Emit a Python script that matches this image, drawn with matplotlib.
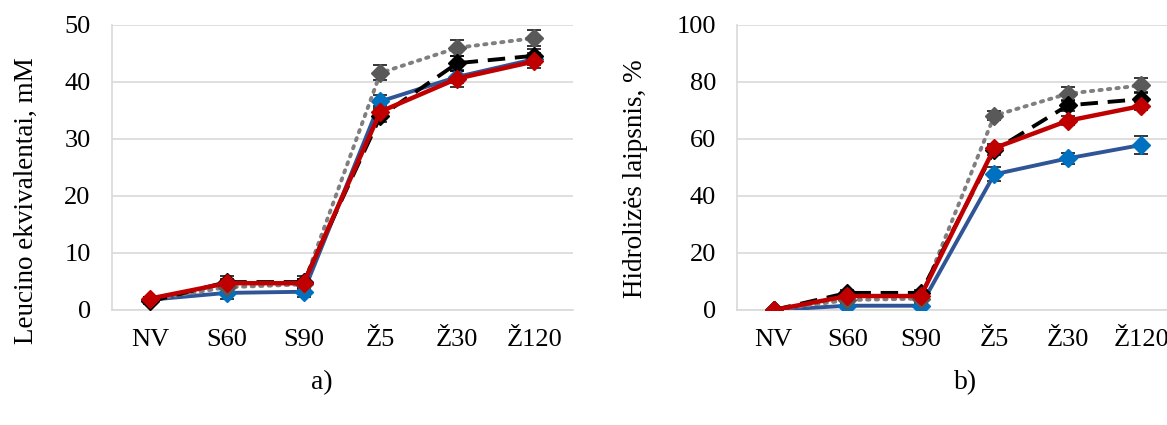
import matplotlib.pyplot as plt
import numpy as np

plt.rcParams['font.family'] = ['Liberation Serif', 'DejaVu Serif']

# === DUOMENYS ===
kategorijos = ["NV", "S60", "S90", "Ž5", "Ž30", "Ž120"]

# a) Leucino ekvivalentai, mM
leu_melyna = [1.8, 3.0, 3.2, 36.6, 40.9, 44.0]
leu_melyna_err = [0.4, 1.1, 1.0, 1.2, 1.0, 1.0]
leu_pilka = [1.8, 4.0, 4.5, 41.6, 46.0, 47.7]
leu_pilka_err = [0.4, 1.0, 1.0, 1.3, 1.4, 1.4]
leu_juoda = [1.5, 4.9, 4.9, 34.0, 43.3, 44.6]
leu_juoda_err = [0.4, 1.0, 1.0, 1.1, 1.2, 1.2]
leu_raudona = [2.0, 4.7, 4.7, 34.8, 40.6, 43.6]
leu_raudona_err = [0.3, 0.8, 0.8, 1.0, 1.4, 1.2]

# b) Hidrolizės laipsnis, %
hl_melyna = [0.0, 1.5, 1.5, 47.6, 53.2, 57.9]
hl_melyna_err = [0.3, 1.0, 1.0, 2.5, 2.0, 3.0]
hl_pilka = [0.0, 3.5, 4.0, 68.2, 75.9, 78.8]
hl_pilka_err = [0.3, 1.0, 1.0, 1.5, 2.5, 2.5]
hl_juoda = [0.0, 6.0, 6.0, 56.0, 71.8, 74.0]
hl_juoda_err = [0.3, 1.0, 1.0, 1.5, 2.0, 2.5]
hl_raudona = [0.0, 4.9, 4.9, 56.8, 66.4, 71.6]
hl_raudona_err = [0.3, 0.8, 0.8, 1.5, 1.5, 1.5]

# === STILIAI ===
serijos_stilius = [
    dict(color="#2F5597", mfc="#0070C0", mec="#0070C0", ls="-", lw=2.8),
    dict(color="#7F7F7F", mfc="#595959", mec="#595959", ls=(0, (0.6, 1.6)), lw=2.8,
         dash_capstyle="round"),
    dict(color="#000000", mfc="#000000", mec="#000000", ls=(0, (4.5, 2.5)), lw=2.8),
    dict(color="#C00000", mfc="#C00000", mec="#C00000", ls="-", lw=3.2),
]

fig = plt.figure(figsize=(11.67, 4.25), dpi=100)
ax1 = fig.add_axes([0.0956, 0.2706, 0.395, 0.6706])
ax2 = fig.add_axes([0.6315, 0.2706, 0.378, 0.6706])

x = np.arange(len(kategorijos))


def piesti(ax, serijos, ymax, ylabel, label_xy):
    for (y, err), st in zip(serijos, serijos_stilius):
        ax.errorbar(x, y, yerr=err, fmt="none", ecolor="black", elinewidth=1.1,
                    capsize=5, capthick=1.1, zorder=2)
        ax.plot(x, y, marker="D", markersize=9.5, zorder=3, **st)
    ax.set_xlim(-0.5, len(kategorijos) - 0.5)
    ax.set_ylim(0, ymax)
    ax.set_yticks(np.linspace(0, ymax, 6))
    ax.set_xticks(x)
    ax.set_xticklabels(kategorijos)
    ax.tick_params(axis="both", length=0, labelsize=19)
    ax.tick_params(axis="y", pad=15)
    ax.tick_params(axis="x", pad=14)
    ax.grid(axis="y", color="#D9D9D9", lw=1.2, zorder=0)
    ax.set_axisbelow(True)
    for s in ["top", "right"]:
        ax.spines[s].set_visible(False)
    for s in ["left", "bottom"]:
        ax.spines[s].set_color("#D9D9D9")
        ax.spines[s].set_linewidth(1.2)
    ax.set_ylabel(ylabel, fontsize=19.5)
    ax.yaxis.set_label_coords(*label_xy)


piesti(ax1,
       [(leu_melyna, leu_melyna_err), (leu_pilka, leu_pilka_err),
        (leu_juoda, leu_juoda_err), (leu_raudona, leu_raudona_err)],
       50, "Leucino ekvivalentai, mM", (-0.158, 0.382))
piesti(ax2,
       [(hl_melyna, hl_melyna_err), (hl_pilka, hl_pilka_err),
        (hl_juoda, hl_juoda_err), (hl_raudona, hl_raudona_err)],
       100, "Hidrolizės laipsnis, %", (-0.202, 0.46))

fig.text(0.276, 0.099, "a)", fontsize=20, ha="center", va="center")
fig.text(0.827, 0.099, "b)", fontsize=20, ha="center", va="center")

fig.savefig("out.png", dpi=100)
